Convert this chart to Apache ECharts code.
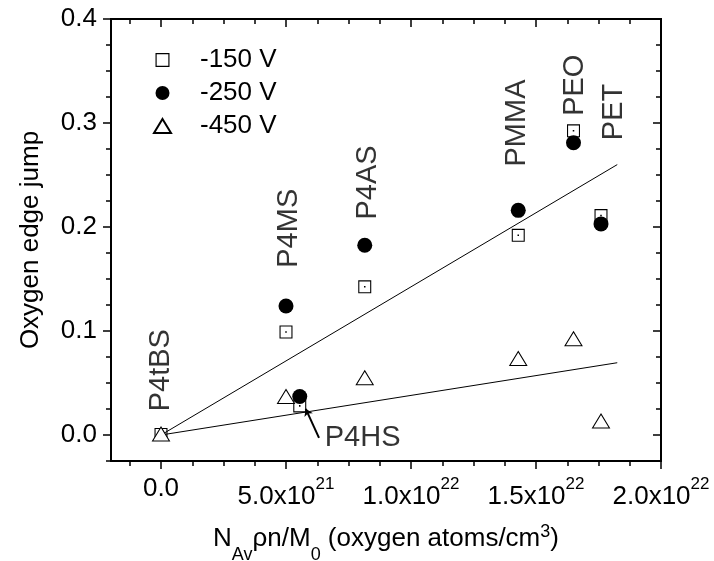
<!DOCTYPE html>
<html><head><meta charset="utf-8">
<script src="https://cdn.jsdelivr.net/npm/echarts@6/dist/echarts.min.js"></script>
<style>html,body{margin:0;padding:0;background:#fff}#c{width:714px;height:561px}</style>
</head><body><div id="c"></div>
<script>
// x values in units of 1e21 oxygen atoms/cm^3
const seriesNames = ['-150 V', '-250 V', '-450 V'];
const sq150  = [[0, 0.0005], [5.0, 0.099], [5.55, 0.028], [8.15, 0.1425], [14.29, 0.192], [16.5, 0.2925], [17.6, 0.211]];
const circ250 = [[5.0, 0.124], [5.55, 0.037], [8.15, 0.1825], [14.29, 0.216], [16.5, 0.281], [17.6, 0.203]];
const tri450 = [[0, 0.001], [5.0, 0.037], [8.15, 0.055], [14.29, 0.0735], [16.5, 0.0925], [17.6, 0.0135]];
const fitX = [0, 18.25];
const fitHigh = [0, 0.26];
const fitLow = [0, 0.0695];
const annNames = ['P4tBS', 'P4MS', 'P4AS', 'PMMA', 'PEO', 'PET'];
const annX = [-0.01, 5.12, 8.28, 14.22, 16.56, 18.12];
const annY = [0.0623, 0.1988, 0.2428, 0.300, 0.3363, 0.3106];
const hsName = 'P4HS';
const hsX = 6.55, hsY = -0.003;
const hsArrow = [[6.32, -0.0027], [5.79, 0.0252]];
const xMajor = [0, 5, 10, 15, 20];
const xMinor = [-1.25, 1.25, 2.5, 3.75, 6.25, 7.5, 8.75, 11.25, 12.5, 13.75, 16.25, 17.5, 18.75];
const yMajor = [0, 0.1, 0.2, 0.3, 0.4];
const yMinor = [-0.025, 0.025, 0.05, 0.075, 0.125, 0.15, 0.175, 0.225, 0.25, 0.275, 0.325, 0.35, 0.375];

const FF = '"Liberation Sans", Arial, sans-serif';
const BLACK = '#000';
const SQ_PATH = 'path://M0,0H12V12H0Z M1,1V11H11V1Z M5.3,5.3H6.7V6.7H5.3Z';
const SQ_LEG = 'path://M0,0H12V12H0Z M1,1V11H11V1Z';

function xFmt(v) {
  if (Math.abs(v) < 1e-9) return '{m|0.0}';
  const val = v * 1e21;
  const e = Math.floor(Math.log10(val) + 1e-9);
  const m = val / Math.pow(10, e);
  return '{m|' + m.toFixed(1) + 'x10}{s|' + e + '}';
}

const axLine = {show: true, onZero: false, lineStyle: {color: BLACK, width: 2}};
function xAx(pos, vals, len, inside, labels) {
  const a = {
    type: 'value', position: pos, min: -2, max: 20, scale: false,
    axisLine: axLine, splitLine: {show: false},
    axisTick: {show: true, inside: inside, length: len, customValues: vals, lineStyle: {color: BLACK, width: 1.5}},
    axisLabel: {show: false}
  };
  if (labels) {
    a.axisLabel = {show: true, customValues: xMajor, formatter: xFmt, margin: 15, color: BLACK,
      rich: {
        m: {fontSize: 26, lineHeight: 26, verticalAlign: 'bottom', fontFamily: FF, color: BLACK},
        s: {fontSize: 17, verticalAlign: 'top', padding: [0, 0, 17, 0], fontFamily: FF, color: BLACK}
      }};
    a.name = '{a|N}{b|Av}{a|\u03c1n/M}{b|0}{a| (oxygen atoms/cm}{c|3}{a|)}';
    a.nameLocation = 'middle';
    a.nameGap = 62;
    a.nameTextStyle = {
      rich: {
        a: {fontSize: 26, lineHeight: 26, padding: [3, 0, 0, 0], verticalAlign: 'top', fontFamily: FF, color: BLACK},
        b: {fontSize: 18, lineHeight: 18, padding: [23, 0, 0, 0], verticalAlign: 'top', fontFamily: FF, color: BLACK},
        c: {fontSize: 18, lineHeight: 18, verticalAlign: 'top', fontFamily: FF, color: BLACK}
      }
    };
  }
  return a;
}
function yAx(pos, vals, len, inside, labels) {
  const a = {
    type: 'value', position: pos, min: -0.025, max: 0.4, scale: false,
    axisLine: axLine, splitLine: {show: false},
    axisTick: {show: true, inside: inside, length: len, customValues: vals, lineStyle: {color: BLACK, width: 1.5}},
    axisLabel: {show: false}
  };
  if (labels) {
    a.axisLabel = {show: true, customValues: yMajor, formatter: v => v.toFixed(1), margin: 14,
      fontSize: 26, fontFamily: FF, color: BLACK};
    a.name = 'Oxygen edge jump';
    a.nameLocation = 'middle';
    a.nameGap = 67;
    a.nameTextStyle = {fontSize: 26, fontFamily: FF, color: BLACK};
  }
  return a;
}

const chart = echarts.init(document.getElementById('c'), null, {renderer: 'canvas'});
chart.setOption({
  animation: false,
  backgroundColor: '#fff',
  grid: {left: 111, top: 19, right: 53, bottom: 100, containLabel: false, outerBoundsMode: 'none'},
  legend: {
    data: [{name: seriesNames[0], icon: SQ_LEG}, {name: seriesNames[1], icon: 'circle'}, {name: seriesNames[2], icon: 'triangle'}],
    orient: 'vertical', left: 148, top: 42, itemWidth: 17, itemHeight: 14, itemGap: 7,
    selectedMode: false,
    textStyle: {fontSize: 26, lineHeight: 26, fontFamily: FF, color: BLACK, padding: [0, 0, 0, 24]}
  },
  xAxis: [xAx('bottom', xMajor, 8, false, true), xAx('bottom', xMinor, 5, false, false),
          xAx('top', xMajor, 8, true, false), xAx('top', xMinor, 5, true, false)],
  yAxis: [yAx('left', yMajor, 8, false, true), yAx('left', yMinor, 5, false, false),
          yAx('right', yMajor, 8, true, false), yAx('right', yMinor, 5, true, false)],
  series: [
    {name: 'fitHigh', type: 'line', data: fitX.map((x, i) => [x, fitHigh[i]]), showSymbol: false, symbol: 'none',
     lineStyle: {color: BLACK, width: 1}, z: 1, silent: true},
    {name: 'fitLow', type: 'line', data: fitX.map((x, i) => [x, fitLow[i]]), showSymbol: false, symbol: 'none',
     lineStyle: {color: BLACK, width: 1}, z: 1, silent: true},
    {name: seriesNames[0], type: 'scatter', data: sq150, symbol: SQ_PATH, symbolSize: 13,
     itemStyle: {color: BLACK, opacity: 1}, z: 2},
    {name: seriesNames[2], type: 'scatter', data: tri450, symbol: 'triangle', symbolSize: [17, 14],
     itemStyle: {color: '#fff', borderColor: BLACK, borderWidth: 1, opacity: 1}, z: 3},
    {name: seriesNames[1], type: 'scatter', data: circ250, symbol: 'circle', symbolSize: 15,
     itemStyle: {color: BLACK, opacity: 1}, z: 4},
    {name: 'annotations', type: 'scatter', symbolSize: 0, z: 5, silent: true,
     data: annNames.map((n, i) => ({name: n, value: [annX[i], annY[i]]})),
     label: {show: true, position: 'inside', rotate: 90, formatter: p => p.name,
             fontSize: 29, fontFamily: FF, color: BLACK}},
    {name: 'hsLabel', type: 'scatter', symbolSize: 0, z: 5, silent: true,
     data: [{name: hsName, value: [hsX, hsY]}],
     label: {show: true, position: 'right', distance: 0, formatter: p => p.name,
             fontSize: 29, fontFamily: FF, color: BLACK},
     markLine: {silent: true, symbol: ['none', 'arrow'], symbolSize: 7, label: {show: false},
       lineStyle: {color: BLACK, width: 2, type: 'solid'},
       data: [[{coord: hsArrow[0]}, {coord: hsArrow[1]}]]}}
  ]
});
</script>
</body></html>
